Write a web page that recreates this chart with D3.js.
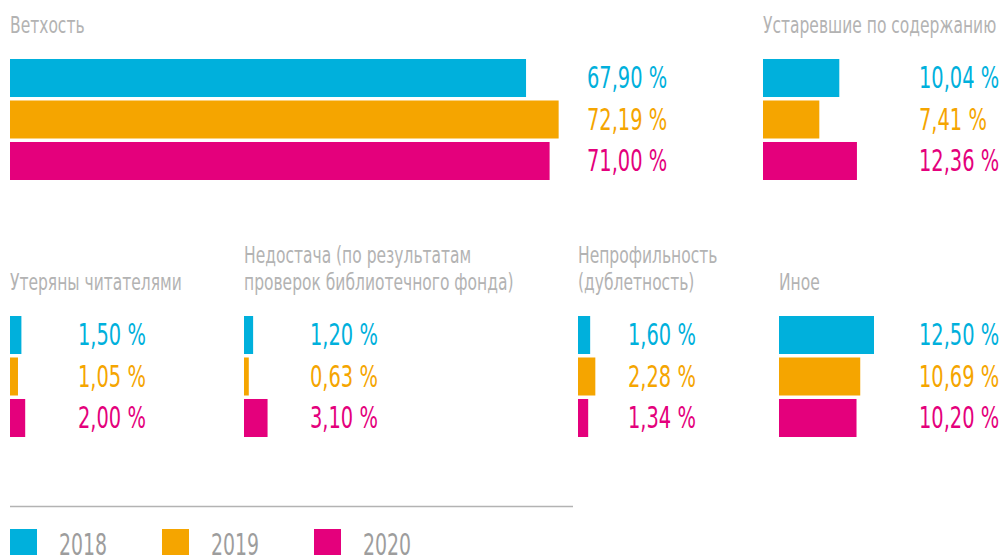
<!DOCTYPE html>
<html>
<head>
<meta charset="utf-8">
<script src="https://cdn.jsdelivr.net/npm/d3@7"></script>
<style>
  body { margin: 0; background: #fff; }
  svg { display: block; font-family: "Liberation Sans Narrow", "DejaVu Sans Condensed", sans-serif; }
</style>
</head>
<body>
<svg width="999" height="555"></svg>
<script>
// данные
const years = ["2018", "2019", "2020"];
const categories = [
  ["Ветхость"],
  ["Устаревшие по содержанию"],
  ["Утеряны читателями"],
  ["Недостача (по результатам", "проверок библиотечного фонда)"],
  ["Непрофильность", "(дублетность)"],
  ["Иное"]
];
const values2018 = [67.90, 10.04, 1.50, 1.20, 1.60, 12.50];
const values2019 = [72.19, 7.41, 1.05, 0.63, 2.28, 10.69];
const values2020 = [71.00, 12.36, 2.00, 3.10, 1.34, 10.20];
const colors = ["#00b0dc", "#f5a500", "#e4007c"];

// раскладка панелей
const panelX = [10, 763, 10, 244, 578, 779];
const labelX = [587, 919, 78, 310, 628, 919];
const barsTop = [59, 59, 316, 316, 316, 316];
const titleBase = [33, 33, 290, 290, 290, 290];

const svg = d3.select("svg");
const series = [values2018, values2019, values2020];

const x = d3.scaleLinear().domain([0, 100]).range([0, 760]);
const y = d3.scaleBand().domain(years).range([0, 121]).paddingInner(0.084);
const color = d3.scaleOrdinal().domain(years).range(colors);

const ru = d3.formatLocale({decimal: ",", thousands: " ", grouping: [3], currency: ["", ""]});
const fmt = v => ru.format(".2f")(v) + " %";

// шрифт в оригинале узкий (DIN Condensed) — сжимаем по горизонтали
const titleScale = 0.75;
const numScale = 0.72;

categories.forEach((lines, i) => {
  const g = svg.append("g").attr("transform", `translate(${panelX[i]},0)`);

  // заголовок
  const t = g.append("text")
    .attr("transform", `scale(${titleScale},1)`)
    .attr("fill", "#b3b3b3")
    .attr("font-size", 23);
  lines.forEach((line, k) => {
    t.append("tspan")
      .attr("x", 0)
      .attr("y", titleBase[i] - (lines.length - 1 - k) * 27)
      .text(line);
  });

  const rows = years.map((yr, j) => ({year: yr, value: series[j][i]}));

  // полосы
  g.selectAll("rect")
    .data(rows)
    .enter().append("rect")
    .attr("x", 0)
    .attr("y", d => barsTop[i] + y(d.year))
    .attr("width", d => x(d.value))
    .attr("height", y.bandwidth())
    .attr("fill", d => color(d.year));

  // подписи значений
  svg.selectAll(".val" + i)
    .data(rows)
    .enter().append("text")
    .attr("class", "val" + i)
    .attr("transform", d => `translate(${labelX[i]},${barsTop[i] + y(d.year) + y.bandwidth() / 2 + 10}) scale(${numScale},1)`)
    .attr("font-size", 30)
    .attr("fill", d => color(d.year))
    .text(d => fmt(d.value));
});

// легенда
svg.append("line")
  .attr("x1", 10).attr("x2", 573)
  .attr("y1", 506.5).attr("y2", 506.5)
  .attr("stroke", "#b3b3b3")
  .attr("stroke-width", 1.6);

const leg = svg.selectAll(".legend")
  .data(years)
  .enter().append("g")
  .attr("class", "legend")
  .attr("transform", (d, i) => `translate(${10 + i * 152},529)`);

leg.append("rect")
  .attr("width", 27).attr("height", 27)
  .attr("fill", d => color(d));

leg.append("text")
  .attr("transform", `translate(49,26) scale(0.7,1)`)
  .attr("font-size", 30)
  .attr("fill", "#9d9d9d")
  .text(d => d);
</script>
</body>
</html>
